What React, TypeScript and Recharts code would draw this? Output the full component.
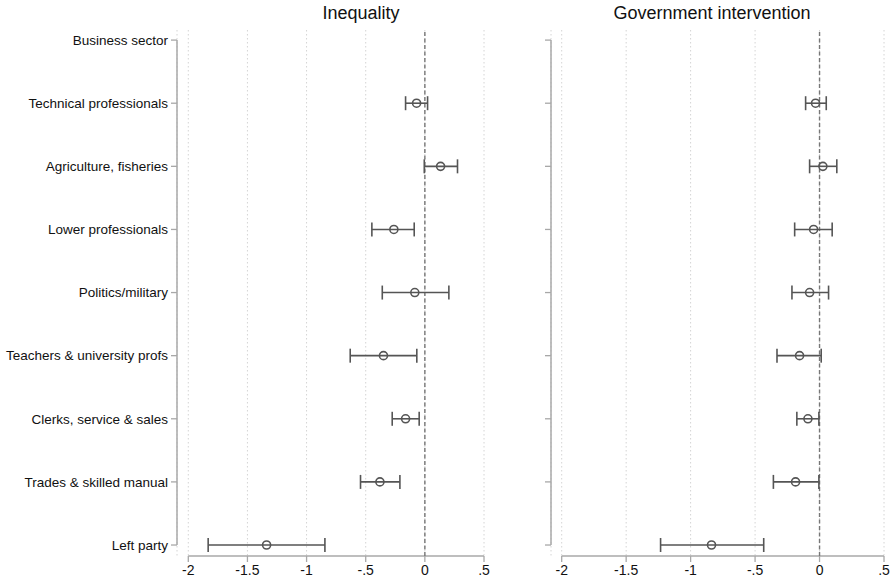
import { CartesianGrid, ErrorBar, ReferenceLine, Scatter, ScatterChart, XAxis, YAxis } from 'recharts'

// Occupation categories, top to bottom (Business sector is the reference group)
const categories = [
  'Business sector',
  'Technical professionals',
  'Agriculture, fisheries',
  'Lower professionals',
  'Politics/military',
  'Teachers & university profs',
  'Clerks, service & sales',
  'Trades & skilled manual',
  'Left party',
]

// Inequality: point estimates and 95% CI, rows 1..8
const ineqEst = [-0.07, 0.133, -0.262, -0.085, -0.35, -0.163, -0.38, -1.338]
const ineqLo = [-0.163, -0.005, -0.448, -0.36, -0.631, -0.276, -0.544, -1.832]
const ineqHi = [0.023, 0.276, -0.09, 0.203, -0.068, -0.048, -0.211, -0.845]

// Government intervention
const govEst = [-0.031, 0.026, -0.046, -0.077, -0.155, -0.09, -0.186, -0.838]
const govLo = [-0.108, -0.077, -0.193, -0.214, -0.33, -0.176, -0.358, -1.233]
const govHi = [0.052, 0.134, 0.098, 0.07, 0.013, -0.005, -0.005, -0.433]

const xTicks = [-2, -1.5, -1, -0.5, 0, 0.5]
const rowTicks = [0, 1, 2, 3, 4, 5, 6, 7, 8]

const fmtX = (v: number) => {
  if (v === 0) return '0'
  return String(v).replace('0.', '.')
}

const buildRows = (est: number[], lo: number[], hi: number[]) =>
  est.map((e, i) => ({ row: i + 1, est: e, err: [e - lo[i], hi[i] - e] }))

const AXIS = '#a8a8a8'
const MARK = '#555555'
const FONT = '"Liberation Sans", Arial, Helvetica, sans-serif'

const Hollow = (p: any) => (
  <circle cx={p.cx} cy={p.cy} r={4} fill="none" stroke={MARK} strokeWidth={1.6} />
)

// plain svg text so long labels don't wrap
const RowTick = ({ x, y, payload }: any) => (
  <text x={x} y={y} dy="0.355em" textAnchor="end" fill="#111" fontSize={13.5} fontFamily={FONT}>
    {categories[payload.value]}
  </text>
)

// keeps the tick marks but draws no label
const NoLabel = () => <g />

interface PanelProps {
  data: { row: number; est: number; err: number[] }[]
  width: number
  left: number
  yWidth: number
  xMin: number
  showLabels: boolean
}

const Panel = ({ data, width, left, yWidth, xMin, showLabels }: PanelProps) => (
  <ScatterChart
    width={width}
    height={584}
    margin={{ top: 30, right: 8, left: left, bottom: 0 }}
  >
    <CartesianGrid horizontal={false} stroke="#d4d4d4" strokeDasharray="1.5 2.5" />
    <XAxis
      type="number"
      dataKey="est"
      domain={[xMin, 0.5]}
      ticks={xTicks}
      tickFormatter={fmtX}
      allowDataOverflow
      axisLine={false}
      tickLine={{ stroke: AXIS, strokeWidth: 1.3 }}
      tickSize={6}
      tickMargin={3}
      height={28}
      tick={{ fill: '#111', fontSize: 14, fontFamily: FONT }}
    />
    <YAxis
      type="number"
      dataKey="row"
      reversed
      domain={[-0.16, 8.174]}
      ticks={rowTicks}
      allowDataOverflow
      width={yWidth}
      axisLine={false}
      tickLine={{ stroke: AXIS, strokeWidth: 1.3 }}
      tickSize={6}
      tickMargin={3}
      tick={showLabels ? RowTick : NoLabel}
    />
    <ReferenceLine
      segment={[{ x: -2, y: 8.174 }, { x: 0.5, y: 8.174 }]}
      stroke={AXIS}
      strokeWidth={1.5}
    />
    <ReferenceLine
      segment={[{ x: xMin, y: 0 }, { x: xMin, y: 8 }]}
      stroke={AXIS}
      strokeWidth={1.5}
    />
    <ReferenceLine x={0} stroke="#777" strokeWidth={1.4} strokeDasharray="4 2.5" />
    <Scatter data={data} shape={Hollow} isAnimationActive={false}>
      <ErrorBar dataKey="err" direction="x" width={7} stroke={MARK} strokeWidth={1.6} />
    </Scatter>
  </ScatterChart>
)

export default function App() {
  const ineqRows = buildRows(ineqEst, ineqLo, ineqHi)
  const govRows = buildRows(govEst, govLo, govHi)

  return (
    <div style={{ position: 'absolute', left: 0, top: 0, width: 892, height: 584, background: '#fff', fontFamily: FONT }}>
      <div style={{ position: 'absolute', left: 261, width: 200, top: 3, textAlign: 'center', fontSize: 18, color: '#111' }}>
        Inequality
      </div>
      <div style={{ position: 'absolute', left: 562, width: 300, top: 3, textAlign: 'center', fontSize: 18, color: '#111' }}>
        Government intervention
      </div>
      <div style={{ position: 'absolute', left: 0, top: 0 }}>
        <Panel data={ineqRows} width={492} left={7} yWidth={170} xMin={-2.0955} showLabels />
      </div>
      <div style={{ position: 'absolute', left: 545, top: 0 }}>
        <Panel data={govRows} width={347} left={0} yWidth={6} xMin={-2.083} showLabels={false} />
      </div>
    </div>
  )
}
